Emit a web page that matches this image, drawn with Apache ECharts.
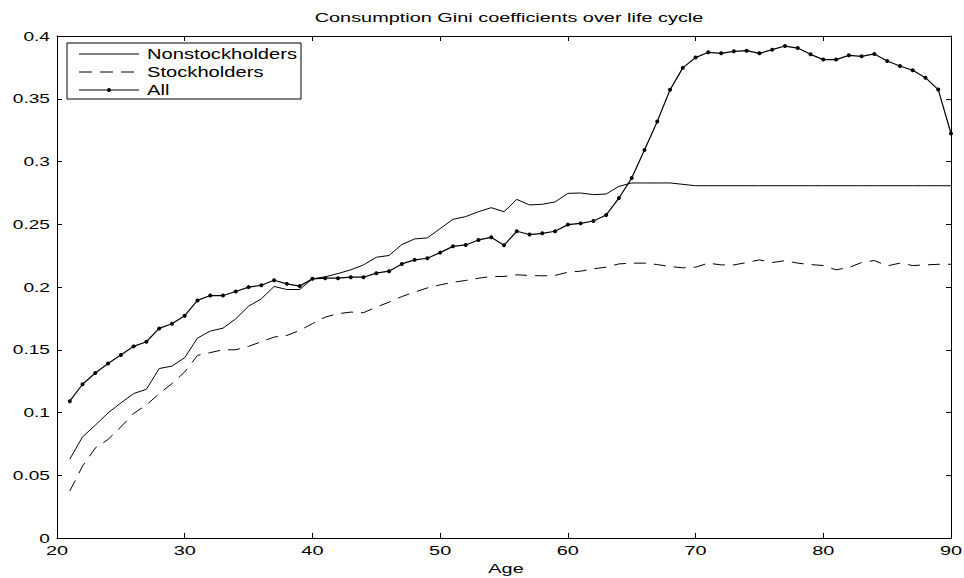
<!DOCTYPE html>
<html>
<head>
<meta charset="utf-8">
<script src="https://cdn.jsdelivr.net/npm/echarts@6/dist/echarts.min.js"></script>
<style>html,body{margin:0;padding:0;background:#fff}#c{width:964px;height:578px}</style>
</head>
<body>
<div id="c"></div>
<script>
var ages = [];
for (var a = 21; a <= 90; a++) ages.push(a);

var nonStock = [0.0628,0.0806,0.0899,0.0997,0.1076,0.1151,0.1185,0.135,0.137,0.1437,
0.1593,0.1649,0.1672,0.1747,0.1847,0.1906,0.2004,0.198,0.198,0.2065,
0.2081,0.2107,0.2137,0.2176,0.2237,0.2251,0.2338,0.2383,0.2391,0.2465,
0.2539,0.2561,0.26,0.2632,0.26,0.2698,0.2654,0.2659,0.2678,0.2746,
0.2749,0.2736,0.2741,0.2802,0.2829,0.2829,0.2829,0.2829,0.2818,0.2807,
0.2807,0.2807,0.2807,0.2807,0.2807,0.2807,0.2807,0.2807,0.2807,0.2807,
0.2807,0.2807,0.2807,0.2807,0.2807,0.2807,0.2807,0.2807,0.2807,0.2807];

var stock = [0.0374,0.0573,0.0718,0.0785,0.0885,0.0992,0.106,0.115,0.123,0.1323,
0.1455,0.1477,0.15,0.15,0.1527,0.1564,0.1601,0.1614,0.1654,0.1708,
0.176,0.1787,0.18,0.1795,0.184,0.1879,0.1924,0.1959,0.1993,0.2017,
0.2038,0.2052,0.207,0.2084,0.2084,0.2097,0.2092,0.2089,0.2092,0.2118,
0.2126,0.2145,0.2158,0.2184,0.219,0.219,0.2179,0.2163,0.2153,0.2158,
0.219,0.2176,0.2176,0.2195,0.2216,0.2195,0.221,0.219,0.2179,0.2171,
0.2137,0.2155,0.2195,0.2211,0.2168,0.219,0.2171,0.2176,0.2181,0.2181];

var all = [0.109,0.1225,0.1315,0.139,0.1458,0.1527,0.1564,0.167,0.1707,0.1771,
0.1893,0.1932,0.1932,0.1964,0.1999,0.2014,0.2054,0.2025,0.2007,0.2065,
0.207,0.207,0.2078,0.2078,0.211,0.2126,0.2184,0.2216,0.2229,0.2274,
0.2324,0.2335,0.2375,0.2396,0.2332,0.2444,0.2418,0.2428,0.2444,0.2497,
0.2507,0.2526,0.2574,0.2709,0.2868,0.3091,0.3319,0.3571,0.3746,0.3828,
0.387,0.3862,0.3878,0.3883,0.3862,0.3891,0.392,0.3904,0.3854,0.3812,
0.3812,0.3846,0.3838,0.3857,0.3801,0.3761,0.3727,0.3668,0.3573,0.3223];

var seriesNames = ['Nonstockholders', 'Stockholders', 'All'];
var xTicks = [20,30,40,50,60,70,80,90];
var yTicks = [0,0.05,0.1,0.15,0.2,0.25,0.3,0.35,0.4];
var yTickLabels = ['0','0.05','0.1','0.15','0.2','0.25','0.3','0.35','0.4'];
var titleText = 'Consumption Gini coefficients over life cycle';
var xName = 'Age';

function pairs(v){ return ages.map(function(a,i){ return [a, v[i]]; }); }

var FONT = '"Liberation Sans", Arial, Helvetica, sans-serif';
var SX = 1.53;
var chart = echarts.init(document.getElementById('c'), null, {renderer: 'svg'});
var axisCommon = {
  axisLine: {show: true, onZero: false, lineStyle: {color: '#000', width: 1}},
  axisTick: {show: true, inside: true, length: 5, lineStyle: {color: '#000'}},
  axisLabel: {show: false},
  splitLine: {show: false}
};
chart.setOption({
  backgroundColor: '#fff',
  animation: false,
  grid: {left: 57, right: 13, top: 36, bottom: 40},
  xAxis: [
    Object.assign({}, axisCommon, {type: 'value', min: 20, max: 90, interval: 10, position: 'bottom'}),
    Object.assign({}, axisCommon, {type: 'value', min: 20, max: 90, interval: 10, position: 'top'})
  ],
  yAxis: [
    Object.assign({}, axisCommon, {type: 'value', min: 0, max: 0.4, interval: 0.05, position: 'left'}),
    Object.assign({}, axisCommon, {type: 'value', min: 0, max: 0.4, interval: 0.05, position: 'right'})
  ],
  series: [
    {name: seriesNames[0], type: 'line', data: pairs(nonStock), symbol: 'none',
     lineStyle: {color: '#000', width: 1}, itemStyle: {color: '#000'}},
    {name: seriesNames[1], type: 'line', data: pairs(stock), symbol: 'none',
     lineStyle: {color: '#000', width: 1, type: [12, 8]}, itemStyle: {color: '#000'}},
    {name: seriesNames[2], type: 'line', data: pairs(all), symbol: 'circle', symbolSize: 4, showSymbol: true,
     lineStyle: {color: '#000', width: 1.2}, itemStyle: {color: '#000'}}
  ]
});

// Text elements (stretched horizontally like the reference), positioned from the axes' scales
var g = [];
function txt(x, y, s, size, align, vAlign, sx) {
  return {type: 'text', x: x, y: y, scaleX: sx || SX, silent: true,
    style: {text: s, fontFamily: FONT, fontSize: size, fill: '#000', align: align, verticalAlign: vAlign}};
}
var x0 = chart.convertToPixel({xAxisIndex: 0}, 20), x1 = chart.convertToPixel({xAxisIndex: 0}, 90);
var yBottom = chart.convertToPixel({yAxisIndex: 0}, 0);
g.push(txt((x0 + x1) / 2 + 5, 18, titleText, 13, 'center', 'middle'));
xTicks.forEach(function(v){
  g.push(txt(chart.convertToPixel({xAxisIndex: 0}, v), yBottom + 13, String(v), 13, 'center', 'middle'));
});
yTicks.forEach(function(v, i){
  g.push(txt(x0 - 7, chart.convertToPixel({yAxisIndex: 0}, v), yTickLabels[i], 12.5, 'right', 'middle'));
});
g.push(txt((x0 + x1) / 2 + 2, yBottom + 31, xName, 13, 'center', 'middle'));

// Legend box
var L = {x: 67, y: 43, w: 234, h: 56, lx0: 79, lx1: 139, tx: 147, rows: [54, 72, 90]};
g.push({type: 'rect', shape: {x: L.x, y: L.y, width: L.w, height: L.h}, silent: true,
  style: {fill: '#fff', stroke: '#000', lineWidth: 1}, z: 50});
var dashes = [null, [13, 8], null];
seriesNames.forEach(function(n, i){
  g.push({type: 'line', shape: {x1: L.lx0, y1: L.rows[i], x2: L.lx1, y2: L.rows[i]}, silent: true, z: 51,
    style: {stroke: '#000', lineWidth: 1, lineDash: dashes[i]}});
  var t = txt(L.tx, L.rows[i], n, 14, 'left', 'middle', 1.44);
  t.z = 51;
  g.push(t);
});
g.push({type: 'circle', shape: {cx: (L.lx0 + L.lx1) / 2, cy: L.rows[2], r: 2}, silent: true, z: 52,
  style: {fill: '#000'}});

chart.setOption({graphic: g});
</script>
</body>
</html>
